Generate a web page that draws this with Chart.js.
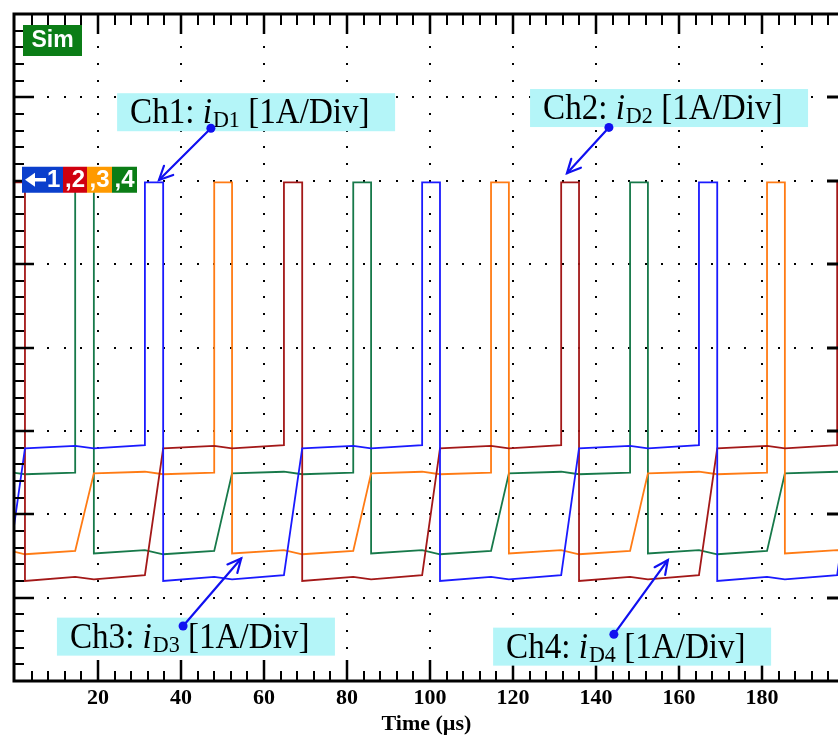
<!DOCTYPE html>
<html>
<head>
<meta charset="utf-8">
<script src="https://cdn.jsdelivr.net/npm/chart.js@4.4.1/dist/chart.umd.min.js"></script>
<style>
  html, body { margin: 0; padding: 0; background: #fff; overflow: hidden; }
  canvas { display: block; }
</style>
</head>
<body>
<canvas id="scope" width="838" height="738"></canvas>
<script>
// Time axis labels (µs)
const timeTicks = [20, 40, 60, 80, 100, 120, 140, 160, 180];

// Ch1: iD1 — time (µs) and screen level (div)
const ch1Time = [-1.9, 2.4, 14.5, 19.0, 31.3, 31.3, 35.7, 35.7, 48.0, 52.3, 64.8, 69.2, 81.5, 85.8, 98.1, 98.1,
                 102.4, 102.4, 114.7, 119.0, 131.6, 135.9, 148.2, 152.5, 164.8, 164.8, 169.2, 169.2, 181.2, 185.5, 198.1, 202.4];
const ch1Div  = [1.27, 2.79, 2.82, 2.79, 2.83, 5.98, 5.98, 1.20, 1.25, 1.22, 1.27, 2.79, 2.82, 2.79, 2.83, 5.98,
                 5.98, 1.20, 1.25, 1.22, 1.27, 2.79, 2.82, 2.79, 2.83, 5.98, 5.98, 1.20, 1.25, 1.22, 1.27, 2.79];

// Ch2: iD2
const ch2Time = [-14.7, -1.9, -1.9, 2.4, 2.4, 14.5, 19.0, 31.3, 35.7, 48.0, 52.3, 64.8, 64.8, 69.2, 69.2, 81.5, 85.8,
                 98.1, 102.4, 114.7, 119.0, 131.6, 131.6, 135.9, 135.9, 148.2, 152.5, 164.8, 169.2, 181.2, 185.5, 198.1, 198.1, 202.4];
const ch2Div  = [2.80, 2.83, 5.98, 5.98, 1.20, 1.25, 1.22, 1.27, 2.79, 2.82, 2.79, 2.83, 5.98, 5.98, 1.20, 1.25, 1.22,
                 1.27, 2.79, 2.82, 2.79, 2.83, 5.98, 5.98, 1.20, 1.25, 1.22, 1.27, 2.79, 2.82, 2.79, 2.83, 5.98, 5.98];

// Ch3: iD3
const ch3Time = [-14.5, -1.9, 2.4, 14.5, 19.0, 31.3, 35.7, 48.0, 48.0, 52.3, 52.3, 64.8, 69.2, 81.5, 85.8, 98.1, 102.4,
                 114.7, 114.7, 119.0, 119.0, 131.6, 135.9, 148.2, 152.5, 164.8, 169.2, 181.2, 181.2, 185.5, 185.5, 198.1, 202.4];
const ch3Div  = [1.53, 1.57, 1.52, 1.56, 2.49, 2.51, 2.48, 2.50, 5.98, 5.98, 1.53, 1.57, 1.52, 1.56, 2.49, 2.51, 2.48,
                 2.50, 5.98, 5.98, 1.53, 1.57, 1.52, 1.56, 2.49, 2.51, 2.48, 2.50, 5.98, 5.98, 1.53, 1.57, 1.52];

// Ch4: iD4
const ch4Time = [-14.7, -1.9, 2.4, 14.5, 14.5, 19.0, 19.0, 31.3, 35.7, 48.0, 52.3, 64.8, 69.2, 81.5, 81.5, 85.8, 85.8,
                 98.1, 102.4, 114.7, 119.0, 131.6, 135.9, 148.2, 148.2, 152.5, 152.5, 164.8, 169.2, 181.2, 185.5, 198.1, 202.4];
const ch4Div  = [2.49, 2.51, 2.48, 2.50, 5.98, 5.98, 1.53, 1.57, 1.52, 1.56, 2.49, 2.51, 2.48, 2.50, 5.98, 5.98, 1.53,
                 1.57, 1.52, 1.56, 2.49, 2.51, 2.48, 2.50, 5.98, 5.98, 1.53, 1.57, 1.52, 1.56, 2.49, 2.51, 2.48];

// Channel callouts
const tagNames = ['Ch1', 'Ch2', 'Ch3', 'Ch4'];
const tagSubs  = ['D1', 'D2', 'D3', 'D4'];

// Callout placement in axis units: box top-left, pointer dot, arrow tip
const tagLayout = [
  { box: [24.6, 7.05], dot: [47.2, 6.63], tip: [34.7, 6.01] },
  { box: [124.1, 7.10], dot: [143.1, 6.64], tip: [133.0, 6.09] },
  { box: [10.1, 0.76], dot: [40.5, 0.66], tip: [54.5, 1.47] },
  { box: [115.2, 0.64], dot: [144.3, 0.56], tip: [157.3, 1.45] }
];

const traceColors = ['#1a1aff', '#a31818', '#ff7b14', '#17794a'];

function toPoints(ts, vs) {
  return ts.map((t, i) => ({ x: t, y: vs[i] }));
}

const SERIF = '"Liberation Serif", "Times New Roman", serif';
const SANS = '"Liberation Sans", Arial, sans-serif';

function drawArrow(ctx, x0, y0, x1, y1) {
  ctx.strokeStyle = '#1010f0';
  ctx.fillStyle = '#1010f0';
  ctx.lineWidth = 2.2;
  ctx.lineCap = 'round';
  ctx.beginPath();
  ctx.moveTo(x0, y0);
  ctx.lineTo(x1, y1);
  ctx.stroke();
  const ang = Math.atan2(y1 - y0, x1 - x0);
  const L = 15, spread = 0.45;
  ctx.beginPath();
  ctx.moveTo(x1 - L * Math.cos(ang - spread), y1 - L * Math.sin(ang - spread));
  ctx.lineTo(x1, y1);
  ctx.lineTo(x1 - L * Math.cos(ang + spread), y1 - L * Math.sin(ang + spread));
  ctx.stroke();
  ctx.beginPath();
  ctx.arc(x0, y0, 4.5, 0, Math.PI * 2);
  ctx.fill();
}

function drawTag(ctx, left, top, name, sub) {
  const w = 278, h = 38;
  ctx.fillStyle = '#b4f5f8';
  ctx.fillRect(left, top, w, h);
  ctx.save();
  // slightly condensed serif lettering
  ctx.translate(left + 13, top + 30);
  ctx.scale(0.92, 1);
  let cx = 0;
  ctx.fillStyle = '#000';
  ctx.textAlign = 'left';
  ctx.textBaseline = 'alphabetic';
  ctx.font = '36px ' + SERIF;
  const head = name + ': ';
  ctx.fillText(head, cx, 0);
  cx += ctx.measureText(head).width;
  ctx.font = 'italic 36px ' + SERIF;
  ctx.fillText('i', cx, 0);
  cx += ctx.measureText('i').width + 1;
  ctx.font = '24px ' + SERIF;
  ctx.fillText(sub, cx, 4);
  cx += ctx.measureText(sub).width;
  ctx.font = '36px ' + SERIF;
  ctx.fillText(' [1A/Div]', cx, 0);
  ctx.restore();
}

const scopeFrame = {
  id: 'scopeFrame',
  beforeDatasetsDraw(chart) {
    const { ctx, chartArea: a, scales: { x, y } } = chart;
    ctx.save();
    ctx.fillStyle = '#000';
    const edge = 20;
    const dot = (px, py) => ctx.fillRect(Math.round(px) - 1, Math.round(py) - 1, 2, 2);
    // dotted graticule along the vertical major lines
    for (let t = 20; t < 200; t += 20) {
      const px = x.getPixelForValue(t);
      for (let k = 0; k <= 40; k++) {
        const py = y.getPixelForValue(k * 0.2);
        if (py < a.top + edge || py > a.bottom - edge) continue;
        dot(px, py);
      }
    }
    // dotted graticule along the horizontal major lines
    for (let v = 1; v < 8; v++) {
      const py = y.getPixelForValue(v);
      for (let k = 0; k <= 50; k++) {
        const px = x.getPixelForValue(k * 4);
        if (px < a.left + edge || px > a.right) continue;
        dot(px, py);
      }
    }
    ctx.restore();
  },
  afterDatasetsDraw(chart) {
    const { ctx, chartArea: a, scales: { x, y } } = chart;
    ctx.save();
    ctx.strokeStyle = '#000';
    ctx.lineCap = 'butt';
    const L = a.left - 1;

    // frame
    ctx.lineWidth = 3;
    ctx.beginPath();
    ctx.moveTo(L, a.top - 1.5); ctx.lineTo(L, a.bottom + 1.5);
    ctx.moveTo(L - 1.5, a.top); ctx.lineTo(a.right + 2, a.top);
    ctx.moveTo(L - 1.5, a.bottom); ctx.lineTo(a.right + 2, a.bottom);
    ctx.stroke();

    // left edge ticks
    for (let k = 1; k < 40; k++) {
      const py = Math.round(y.getPixelForValue(k * 0.2));
      const major = k % 5 === 0;
      ctx.lineWidth = major ? 2.5 : 2;
      ctx.beginPath();
      ctx.moveTo(L, py); ctx.lineTo(L + (major ? 20 : 10), py);
      ctx.stroke();
    }
    // right edge ticks
    for (let v = 1; v < 8; v++) {
      const py = Math.round(y.getPixelForValue(v));
      ctx.lineWidth = 3;
      ctx.beginPath();
      ctx.moveTo(a.right - 11, py); ctx.lineTo(a.right + 2, py);
      ctx.stroke();
    }
    // top and bottom edge ticks
    for (let k = 1; k <= 50; k++) {
      const px = Math.round(x.getPixelForValue(k * 4));
      if (px > a.right + 2) break;
      const major = k % 5 === 0;
      ctx.lineWidth = major ? 2.5 : 2;
      ctx.beginPath();
      ctx.moveTo(px, a.top); ctx.lineTo(px, a.top + (major ? 20 : 11));
      ctx.moveTo(px, a.bottom); ctx.lineTo(px, a.bottom - (major ? 21 : 10));
      ctx.stroke();
    }

    // "Sim" badge
    ctx.fillStyle = '#0b7d16';
    ctx.fillRect(a.left + 8, a.top + 11, 59, 31);
    ctx.fillStyle = '#fff';
    ctx.font = 'bold 23px ' + SANS;
    ctx.textAlign = 'center';
    ctx.textBaseline = 'middle';
    ctx.fillText('Sim', a.left + 8 + 29.5, a.top + 27);

    // channel marker strip
    const my = y.getPixelForValue(6) - 14;
    const mx = a.left + 7;
    const segs = [
      { w: 41, c: '#0b3fcc', t: '1' },
      { w: 24, c: '#d0000f', t: ',2' },
      { w: 25, c: '#ff9a00', t: ',3' },
      { w: 25, c: '#0b7d16', t: ',4' }
    ];
    let sx = mx;
    ctx.font = 'bold 24px ' + SANS;
    ctx.textBaseline = 'middle';
    segs.forEach((s, i) => {
      ctx.fillStyle = s.c;
      ctx.fillRect(sx, my, s.w, 26);
      ctx.fillStyle = '#fff';
      if (i === 0) {
        // ground arrow
        ctx.strokeStyle = '#fff';
        ctx.lineWidth = 3.5;
        ctx.beginPath();
        ctx.moveTo(sx + 11, my + 13); ctx.lineTo(sx + 24, my + 13);
        ctx.stroke();
        ctx.beginPath();
        ctx.moveTo(sx + 3, my + 13); ctx.lineTo(sx + 13, my + 6); ctx.lineTo(sx + 13, my + 20);
        ctx.closePath(); ctx.fill();
        ctx.textAlign = 'left';
        ctx.fillText(s.t, sx + 25, my + 14);
      } else {
        ctx.textAlign = 'center';
        ctx.fillText(s.t, sx + s.w / 2, my + 14);
      }
      sx += s.w;
    });

    // channel callouts
    tagLayout.forEach((g, i) => {
      const bx = x.getPixelForValue(g.box[0]);
      const by = y.getPixelForValue(g.box[1]);
      drawTag(ctx, bx, by, tagNames[i], tagSubs[i]);
      drawArrow(ctx, x.getPixelForValue(g.dot[0]), y.getPixelForValue(g.dot[1]),
                x.getPixelForValue(g.tip[0]), y.getPixelForValue(g.tip[1]));
    });
    ctx.restore();
  }
};

const datasets = [
  toPoints(ch1Time, ch1Div),
  toPoints(ch2Time, ch2Div),
  toPoints(ch3Time, ch3Div),
  toPoints(ch4Time, ch4Div)
].map((pts, i) => ({
  label: tagNames[i],
  data: pts,
  borderColor: traceColors[i],
  borderWidth: 1.8,
  pointRadius: 0,
  fill: false,
  tension: 0
}));

new Chart(document.getElementById('scope'), {
  type: 'line',
  data: { datasets },
  options: {
    responsive: false,
    animation: false,
    devicePixelRatio: 1,
    layout: { padding: { left: 15, top: 14, right: 0, bottom: 0 } },
    plugins: { legend: { display: false }, tooltip: { enabled: false } },
    scales: {
      x: {
        type: 'linear',
        min: 0,
        max: 198.3,
        grid: { display: false, drawTicks: false },
        border: { display: false },
        afterBuildTicks: s => { s.ticks = timeTicks.map(v => ({ value: v })); },
        afterFit: s => { s.height = 57; },
        ticks: {
          color: '#000',
          font: { family: 'Liberation Serif', size: 22, weight: 'bold' },
          padding: 4,
          maxRotation: 0,
          autoSkip: false
        },
        title: {
          display: true,
          text: 'Time (µs)',
          color: '#000',
          font: { family: 'Liberation Serif', size: 22, weight: 'bold' },
          padding: { top: 0, bottom: 0 }
        }
      },
      y: { min: 0, max: 8, display: false }
    }
  },
  plugins: [scopeFrame]
});
</script>
</body>
</html>
